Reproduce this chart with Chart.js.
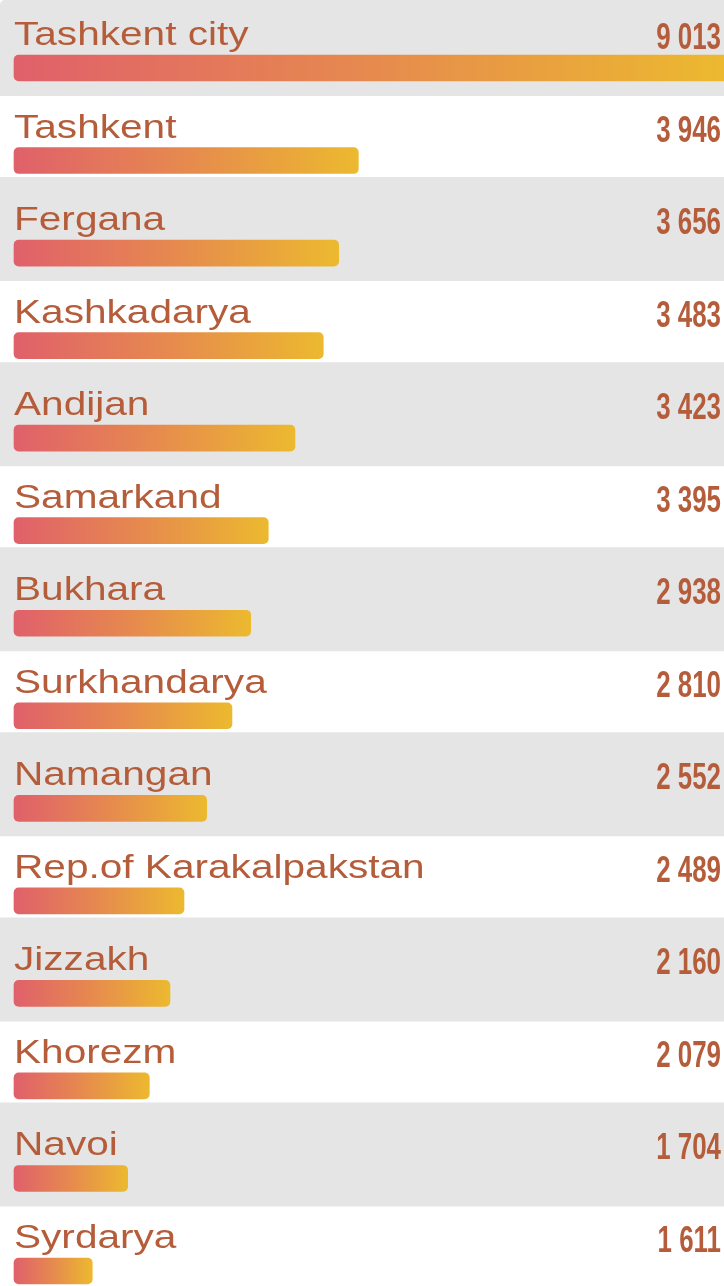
<!DOCTYPE html>
<html>
<head>
<meta charset="utf-8">
<script src="https://cdn.jsdelivr.net/npm/chart.js@4"></script>
<style>
html, body { margin: 0; padding: 0; background: #fff; }
canvas { display: block; }
</style>
</head>
<body>
<canvas id="chart" width="724" height="1286"></canvas>
<script>
// regions, top to bottom
var regions = ['Tashkent city', 'Tashkent', 'Fergana', 'Kashkadarya', 'Andijan', 'Samarkand', 'Bukhara',
    'Surkhandarya', 'Namangan', 'Rep.of Karakalpakstan', 'Jizzakh', 'Khorezm', 'Navoi', 'Syrdarya'];
// numbers printed on the right
var values = [9013, 3946, 3656, 3483, 3423, 3395, 2938, 2810, 2552, 2489, 2160, 2079, 1704, 1611];
// bar lengths as drawn in the picture (same units, full width = 9013)
var barLengths = [9013, 4371, 4122, 3926, 3567, 3228, 3005, 2767, 2446, 2158, 1980, 1718, 1443, 994];
var axisMax = 9013;

var textColor = '#b55d3a';

function fmt(n) {
    return String(n).replace(/\B(?=(\d{3})+(?!\d))/g, ' ');
}

var rowsPlugin = {
    id: 'rows',
    beforeDraw: function(chart) {
        var ctx = chart.ctx;
        var y = chart.scales.y;
        ctx.save();
        ctx.fillStyle = '#ffffff';
        ctx.fillRect(0, 0, chart.width, chart.height);
        ctx.fillStyle = '#e5e5e5';
        for (var i = 0; i < regions.length; i += 2) {
            var c = y.getPixelForValue(i);
            var top = Math.max(0, c - 76);
            var bottom = c + 28;
            ctx.beginPath();
            if (i === 0) {
                ctx.roundRect(0, top, chart.width, bottom - top, [5, 0, 0, 0]);
            } else {
                ctx.rect(0, top, chart.width, bottom - top);
            }
            ctx.fill();
        }
        ctx.restore();
    },
    afterDatasetsDraw: function(chart) {
        var ctx = chart.ctx;
        var y = chart.scales.y;
        ctx.save();
        ctx.fillStyle = textColor;
        ctx.textBaseline = 'alphabetic';
        for (var i = 0; i < regions.length; i++) {
            var base = y.getPixelForValue(i) - 23;
            // region name, wide sans
            ctx.save();
            ctx.font = '33px "Liberation Sans", Arial, sans-serif';
            ctx.textAlign = 'left';
            ctx.translate(14, base);
            ctx.scale(1.23, 1);
            ctx.fillText(regions[i], 0, 0);
            ctx.restore();
            // value, condensed
            ctx.save();
            ctx.font = 'bold 37px "Liberation Sans", Arial, sans-serif';
            ctx.textAlign = 'right';
            ctx.translate(721, base + 4);
            ctx.scale(0.7, 1);
            ctx.fillText(fmt(values[i]), 0, 0);
            ctx.restore();
        }
        ctx.restore();
    }
};

var ctx = document.getElementById('chart').getContext('2d');
new Chart(ctx, {
    type: 'bar',
    data: {
        labels: regions,
        datasets: [{
            data: barLengths,
            clip: false,
            barThickness: 26,
            borderSkipped: false,
            borderRadius: function(c) {
                if (c.dataIndex === 0) return { topLeft: 5, bottomLeft: 5, topRight: 0, bottomRight: 0 };
                return 5;
            },
            backgroundColor: function(c) {
                var chart = c.chart;
                if (!chart.chartArea || c.dataIndex === undefined) return '#e68c4c';
                var x = chart.scales.x;
                var x0 = x.getPixelForValue(0);
                var x1 = x.getPixelForValue(barLengths[c.dataIndex]);
                var g = chart.ctx.createLinearGradient(x0, 0, x1, 0);
                g.addColorStop(0, '#e0606b');
                g.addColorStop(0.5, '#e68a4e');
                g.addColorStop(1, '#ecb92f');
                return g;
            }
        }]
    },
    options: {
        indexAxis: 'y',
        responsive: false,
        animation: false,
        layout: { padding: { left: 14, right: 0, top: 68, bottom: 15 } },
        scales: {
            x: { type: 'linear', min: 0, max: axisMax, display: false },
            y: { type: 'category', offset: false, display: false }
        },
        plugins: {
            legend: { display: false },
            tooltip: { enabled: false }
        }
    },
    plugins: [rowsPlugin]
});
</script>
</body>
</html>
